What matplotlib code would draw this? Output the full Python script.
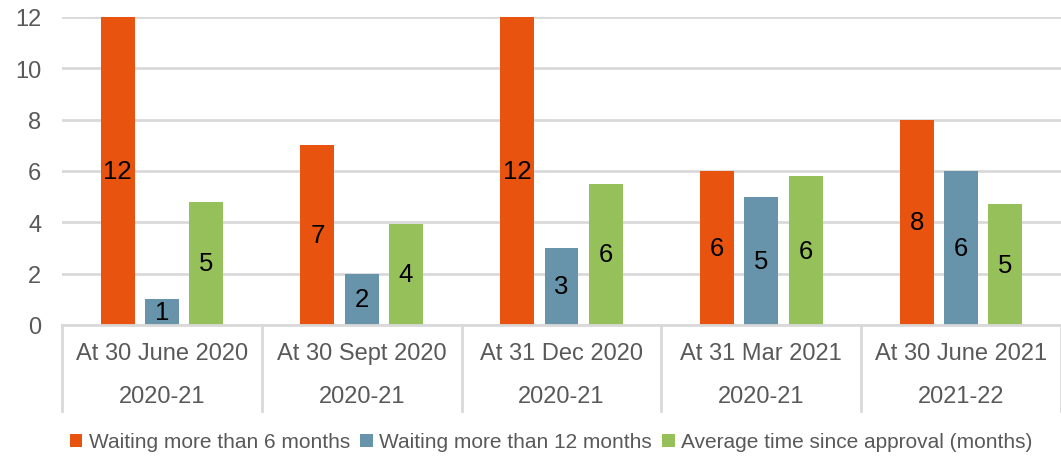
import matplotlib.pyplot as plt
import matplotlib.transforms as mtransforms
import numpy as np

plt.rcParams['font.family'] = ['Liberation Sans', 'DejaVu Sans']

dates = ["At 30 June 2020", "At 30 Sept 2020", "At 31 Dec 2020", "At 31 Mar 2021", "At 30 June 2021"]
years = ["2020-21", "2020-21", "2020-21", "2020-21", "2021-22"]

over_6 = [12, 7, 12, 6, 8]
over_12 = [1, 2, 3, 5, 6]
avg_time = [4.8, 3.95, 5.5, 5.8, 4.7]
avg_labels = ["5", "4", "6", "6", "5"]

series = [
    ("Waiting more than 6 months", over_6, [str(v) for v in over_6], "#E8540F"),
    ("Waiting more than 12 months", over_12, [str(v) for v in over_12], "#6794AB"),
    ("Average time since approval (months)", avg_time, avg_labels, "#96C05A"),
]

fig = plt.figure(figsize=(10.61, 4.6), dpi=100)
ax = fig.add_axes([62 / 1061, 1 - 326 / 460, 1 - 62 / 1061, 308 / 460])

x = np.arange(len(dates))
width = 0.17
offsets = [-0.222, 0, 0.222]

for (name, vals, labels, color), off in zip(series, offsets):
    bars = ax.bar(x + off, vals, width, color=color, label=name, zorder=2)
    ax.bar_label(bars, labels=labels, label_type="center", fontsize=18.5, color="black")

ax.set_xlim(-0.5, len(dates) - 0.5)
ax.set_ylim(0, 12)
ax.set_yticks(range(0, 13, 2))
ax.tick_params(axis="y", length=0, pad=15, labelsize=17, labelcolor="#595959")
ax.set_xticks([])
ax.yaxis.grid(True, color="#D9D9D9", linewidth=2)
ax.set_axisbelow(True)
for side in ["top", "right", "left"]:
    ax.spines[side].set_visible(False)
ax.spines["bottom"].set_color("#D9D9D9")
ax.spines["bottom"].set_linewidth(2)

# two-level category axis
trans = mtransforms.blended_transform_factory(ax.transData, ax.transAxes)
for i, (d, yr) in enumerate(zip(dates, years)):
    ax.text(i, -0.091, d, transform=trans, ha="center", va="center", fontsize=17, color="#595959")
    ax.text(i, -0.23, yr, transform=trans, ha="center", va="center", fontsize=17, color="#595959")
for b in np.arange(-0.5, len(dates), 1.0):
    ax.plot([b, b], [0, -0.28], transform=trans, color="#D9D9D9", linewidth=2, clip_on=False)

fig.legend(loc="center", bbox_to_anchor=(551 / 1061, 1 - 443 / 460), ncol=3, frameon=False,
           fontsize=15, handlelength=0.6, handleheight=0.6, handletextpad=0.3,
           columnspacing=0.5, labelcolor="#595959")

fig.savefig("out.png", dpi=100)
